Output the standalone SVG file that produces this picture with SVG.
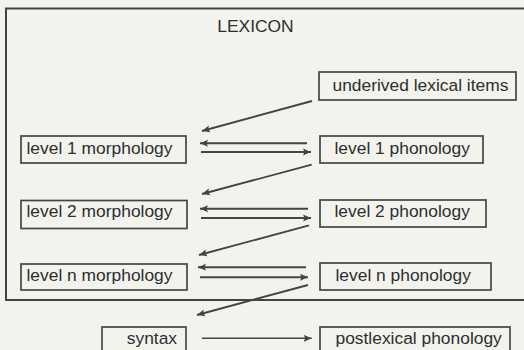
<svg xmlns="http://www.w3.org/2000/svg" width="524" height="350" viewBox="0 0 524 350">
<defs>
<style>
.bg{fill:#f3f3ed}
.box{fill:none;stroke:#444;stroke-width:1.7}
.outer{fill:none;stroke:#444;stroke-width:2}
.t{font-family:"Liberation Sans",Arial,sans-serif;font-size:17.4px;fill:#2e2e2e}
.c{fill:none;stroke:#444;stroke-width:1.9}
.c.thin{stroke-width:1.4}
</style>
<marker id="ah" markerUnits="userSpaceOnUse" markerWidth="9" markerHeight="8" refX="8" refY="4" orient="auto">
<path d="M0,0.5 L8,4 L0,7.5 L1.5,4 z" fill="#444"/>
</marker>
</defs>
<rect class="bg" x="0" y="0" width="524" height="350"/>
<g id="lexicon">
<rect class="outer" x="6" y="8.5" width="530" height="291.5"/>
<text class="t" x="255.5" y="31.5" text-anchor="middle">LEXICON</text>
</g>
<g id="underived">
<rect class="box" x="319" y="72" width="197" height="28"/>
<text class="t" x="332.5" y="91">underived lexical items</text>
</g>
<g id="morph1">
<rect class="box" x="21" y="136" width="165" height="27"/>
<text class="t" x="26.5" y="154">level 1 morphology</text>
</g>
<g id="phon1">
<rect class="box" x="320" y="136" width="163" height="27"/>
<text class="t" x="334.5" y="154">level 1 phonology</text>
</g>
<g id="morph2">
<rect class="box" x="21" y="200.5" width="166" height="28"/>
<text class="t" x="26.5" y="217">level 2 morphology</text>
</g>
<g id="phon2">
<rect class="box" x="320" y="200" width="166" height="27"/>
<text class="t" x="334.5" y="217">level 2 phonology</text>
</g>
<g id="morphn">
<rect class="box" x="21" y="264" width="166" height="26"/>
<text class="t" x="26.5" y="280.5">level n morphology</text>
</g>
<g id="phonn">
<rect class="box" x="320" y="263" width="171" height="27"/>
<text class="t" x="335.5" y="280.5">level n phonology</text>
</g>
<g id="syntax">
<rect class="box" x="102" y="327" width="84" height="30"/>
<text class="t" x="177" y="343.5" text-anchor="end">syntax</text>
</g>
<g id="postlexical">
<rect class="box" x="320" y="327" width="190" height="30"/>
<text class="t" x="335.5" y="343.5">postlexical phonology</text>
</g>
<g id="connectors">
<line class="c" x1="312" y1="101" x2="202" y2="131" marker-end="url(#ah)"/>
<line class="c" x1="307" y1="143.3" x2="200" y2="143.3" marker-end="url(#ah)"/>
<line class="c" x1="201" y1="152" x2="311" y2="152" marker-end="url(#ah)"/>
<line class="c" x1="311.7" y1="164.7" x2="202" y2="194" marker-end="url(#ah)"/>
<line class="c" x1="308" y1="208.7" x2="200" y2="208.7" marker-end="url(#ah)"/>
<line class="c" x1="201" y1="218" x2="311" y2="218" marker-end="url(#ah)"/>
<line class="c" x1="309" y1="225.3" x2="199" y2="255" marker-end="url(#ah)"/>
<line class="c" x1="306" y1="267.3" x2="198" y2="267.3" marker-end="url(#ah)"/>
<line class="c" x1="200" y1="277.3" x2="308" y2="277.3" marker-end="url(#ah)"/>
<line class="c" x1="308" y1="285" x2="197" y2="315" marker-end="url(#ah)"/>
<line class="c thin" x1="202" y1="338.3" x2="311.7" y2="338.3" marker-end="url(#ah)"/>
</g>
</svg>
